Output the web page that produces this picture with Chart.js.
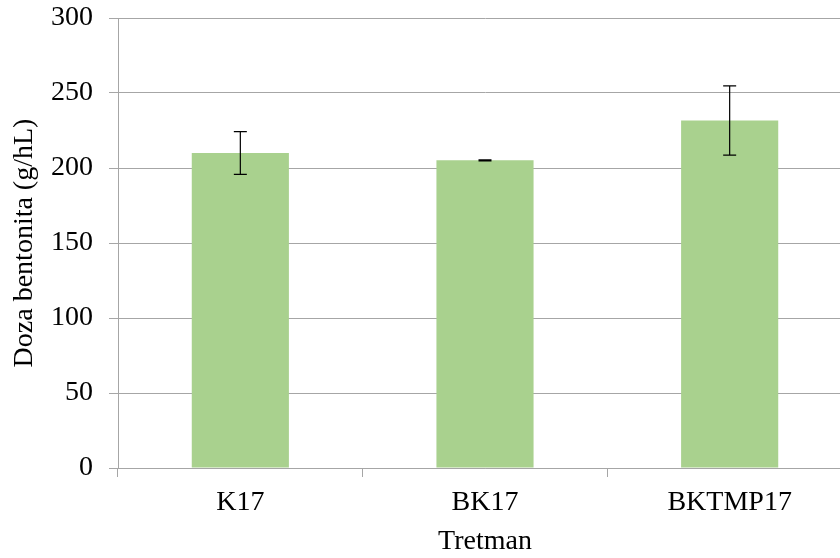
<!DOCTYPE html>
<html>
<head>
<meta charset="utf-8">
<script src="https://cdn.jsdelivr.net/npm/chart.js@4/dist/chart.umd.min.js"></script>
<style>
    html, body { margin: 0; padding: 0; background: #fff; overflow: hidden; }
    #wrap { width: 860px; height: 558px; }
</style>
</head>
<body>
<div id="wrap"><canvas id="doseChart" width="860" height="558"></canvas></div>
<script>
const categories = ['K17', 'BK17', 'BKTMP17'];
const doseValues = [210, 205.1, 231.7];
const doseErrors = [14.3, 0.3, 23.1];
const yTicks = [0, 50, 100, 150, 200, 250, 300];

const gridGray = '#a6a6a6';
const serif = "'Liberation Serif', 'Times New Roman', serif";

// Chart.js has no error bars, so draw them from the y scale after the bars
const errorBars = {
    id: 'errorBars',
    afterDatasetsDraw(chart) {
        const ctx = chart.ctx;
        const y = chart.scales.y;
        const meta = chart.getDatasetMeta(0);
        ctx.save();
        ctx.strokeStyle = '#000';
        ctx.lineWidth = 1.2;
        meta.data.forEach(function(bar, i) {
            const top = y.getPixelForValue(doseValues[i] + doseErrors[i]);
            const bottom = y.getPixelForValue(doseValues[i] - doseErrors[i]);
            const half = 6.5;
            ctx.beginPath();
            ctx.moveTo(bar.x, top);
            ctx.lineTo(bar.x, bottom);
            ctx.moveTo(bar.x - half, top);
            ctx.lineTo(bar.x + half, top);
            ctx.moveTo(bar.x - half, bottom);
            ctx.lineTo(bar.x + half, bottom);
            ctx.stroke();
        });
        ctx.restore();
    }
};

const ctx = document.getElementById('doseChart').getContext('2d');
const doseChart = new Chart(ctx, {
    type: 'bar',
    data: {
        labels: categories,
        datasets: [{
            label: 'Doza bentonita',
            data: doseValues,
            backgroundColor: '#a9d18e',
            borderWidth: 0,
            barPercentage: 1,
            categoryPercentage: 0.397
        }]
    },
    options: {
        responsive: false,
        animation: false,
        devicePixelRatio: 1,
        layout: { padding: { left: 0, right: 8, top: 18, bottom: 0 } },
        plugins: {
            legend: { display: false },
            tooltip: { enabled: false }
        },
        scales: {
            x: {
                afterFit: function(scale) {
                    scale.height = 90;
                    scale.paddingLeft = 0;
                    scale.paddingRight = 0;
                },
                grid: {
                    offset: true,
                    drawOnChartArea: false,
                    drawTicks: true,
                    tickLength: 9,
                    color: gridGray
                },
                border: { display: true, color: gridGray, width: 1 },
                ticks: {
                    color: '#000',
                    padding: 9,
                    font: { family: serif, size: 28 }
                },
                title: {
                    display: true,
                    text: 'Tretman',
                    color: '#000',
                    padding: { top: 0, bottom: 0 },
                    font: { family: serif, size: 28 }
                }
            },
            y: {
                min: 0,
                max: 300,
                afterFit: function(scale) {
                    scale.width = 118;
                    scale.paddingTop = 0;
                    scale.paddingBottom = 0;
                },
                afterBuildTicks: function(scale) {
                    scale.ticks = yTicks.map(function(v) { return { value: v }; });
                },
                grid: {
                    color: gridGray,
                    tickLength: 9,
                    lineWidth: 1
                },
                border: { display: true, color: gridGray, width: 1 },
                ticks: {
                    color: '#000',
                    padding: 16,
                    font: { family: serif, size: 28 }
                },
                title: {
                    display: true,
                    text: 'Doza bentonita (g/hL)',
                    color: '#000',
                    padding: { top: 8, bottom: 0 },
                    font: { family: serif, size: 28 }
                }
            }
        }
    },
    plugins: [errorBars]
});
</script>
</body>
</html>
